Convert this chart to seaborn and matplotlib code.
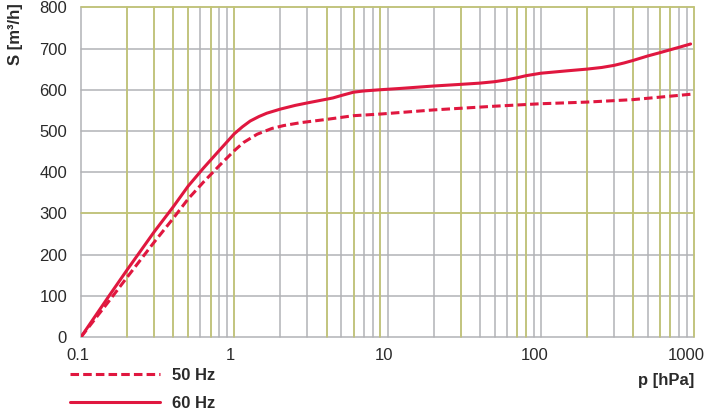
import matplotlib
matplotlib.use("Agg")
import matplotlib.pyplot as plt
import matplotlib.transforms as mtransforms
from matplotlib.lines import Line2D
import pandas as pd
import seaborn as sns

# ---- data ----
p_60 = [0.1, 0.15, 0.2, 0.3, 0.4, 0.5, 0.63, 0.8, 1.0, 1.13, 1.27, 1.45, 1.63, 2.0, 2.5, 3.0, 4.0,
        4.4, 5.0, 6.0, 7.0, 9.0, 12, 20, 30, 40, 50, 60, 70, 80, 100, 150, 200, 250, 300, 350,
        400, 500, 600, 700, 800, 950]
s_60 = [0, 96, 163, 255, 316, 366, 410, 453, 493, 510, 524, 535, 543, 553, 562, 568, 577,
        580, 586, 594, 597, 600, 603, 609, 613, 616, 619.5, 624, 629, 634, 640, 646, 650, 654, 659, 665,
        671, 682, 690, 697, 703, 711]

p_50 = [0.1, 0.15, 0.2, 0.3, 0.4, 0.5, 0.63, 0.8, 1.0, 1.15, 1.41, 1.76, 2.1, 2.7, 4.0,
        6.0, 9.0, 20, 30, 50, 100, 200, 400, 600, 950]
s_50 = [0, 84, 145, 230, 288, 335, 376, 416, 452, 472, 492, 506, 513, 520, 528,
        537, 541, 551, 555, 560, 566, 570, 576, 582, 589]

series_names = ["50 Hz", "60 Hz"]
x_ticks = [0.1, 1, 10, 100, 1000]
x_tick_labels = ["0.1", "1", "10", "100", "1000"]
y_ticks = [0, 100, 200, 300, 400, 500, 600, 700, 800]
olive_x = [0.2, 0.3, 0.4, 0.5, 0.7, 1, 4, 6, 9, 30, 70, 80, 200, 400, 600, 700, 1000]
olive_y = [300, 800]

RED = "#e0173f"
GRAY = "#b2b3b6"
OLIVE = "#c4c66c"
TEXT = "#2a2a2a"

df = pd.concat([
    pd.DataFrame({"p": p_50, "S": s_50, "freq": series_names[0]}),
    pd.DataFrame({"p": p_60, "S": s_60, "freq": series_names[1]}),
])

sns.set_theme(style="white")
plt.rcParams["font.family"] = ["Liberation Sans", "DejaVu Sans"]

fig = plt.figure(figsize=(7.09, 4.11), dpi=100)
W, H = 709, 411
x0, x1, yt, yb = 81, 694, 7.3, 337
ax = fig.add_axes([x0 / W, 1 - yb / H, (x1 - x0) / W, (yb - yt) / H])
ax.set_xscale("log")
ax.set_xlim(0.1, 1000)
ax.set_ylim(0, 800)

# grid
minor = [m * 10.0 ** e for e in range(-1, 3) for m in range(1, 10)] + [1000]
for v in minor:
    ax.axvline(v, color=GRAY, lw=1.1, zorder=1, clip_on=False)
for v in y_ticks:
    ax.axhline(v, color=GRAY, lw=1.1, zorder=1, clip_on=False)
for v in olive_x:
    ax.axvline(v, color=OLIVE, lw=1.1, zorder=1.5, clip_on=False)
for v in olive_y:
    ax.axhline(v, color=OLIVE, lw=1.1, zorder=1.5, clip_on=False)

dash = (2.8, 1.35)
sns.lineplot(data=df, x="p", y="S", hue="freq", style="freq",
             palette={series_names[0]: RED, series_names[1]: RED},
             dashes={series_names[0]: dash, series_names[1]: ""},
             linewidth=2.2, sort=False, estimator=None, legend=False, ax=ax, zorder=3)
for ln in ax.get_lines():
    ln.set_dash_capstyle("butt")
    ln.set_solid_joinstyle("round")

for s in ax.spines.values():
    s.set_visible(False)

ax.set_xticks(x_ticks)
ax.set_xticklabels(x_tick_labels)
ax.xaxis.set_minor_locator(matplotlib.ticker.NullLocator())
ax.set_yticks(y_ticks)
ax.set_yticklabels([str(v) for v in y_ticks])
ax.tick_params(axis="both", length=0, labelsize=12, labelcolor=TEXT)
ax.tick_params(axis="x", pad=8)
ax.tick_params(axis="y", pad=10)
offsets = [-3, -4, -4, -6, -8]
for lab, dx in zip(ax.get_xticklabels(), offsets):
    lab.set_transform(lab.get_transform() + mtransforms.ScaledTranslation(dx / 100, 0, fig.dpi_scale_trans))

ax.set_ylabel("S [m³/h]", loc="top", fontsize=12, fontweight="bold", color=TEXT)
ax.yaxis.set_label_coords(-0.094, 1.013)
ax.set_xlabel("p [hPa]", loc="right", fontsize=12, fontweight="bold", color=TEXT)
ax.xaxis.set_label_coords(1.0, -0.11)

handles = [Line2D([], [], color=RED, lw=2.2, dashes=dash, dash_capstyle="butt"),
           Line2D([], [], color=RED, lw=2.2)]
fig.legend(handles, series_names, loc="upper left", bbox_to_anchor=(70 / W, 1 - 368 / H),
           frameon=False, borderpad=0, borderaxespad=0, handlelength=5.4, handletextpad=0.7,
           labelspacing=0.75, prop={"weight": "bold", "size": 12}, labelcolor=TEXT)

fig.savefig("out.png", dpi=100)
